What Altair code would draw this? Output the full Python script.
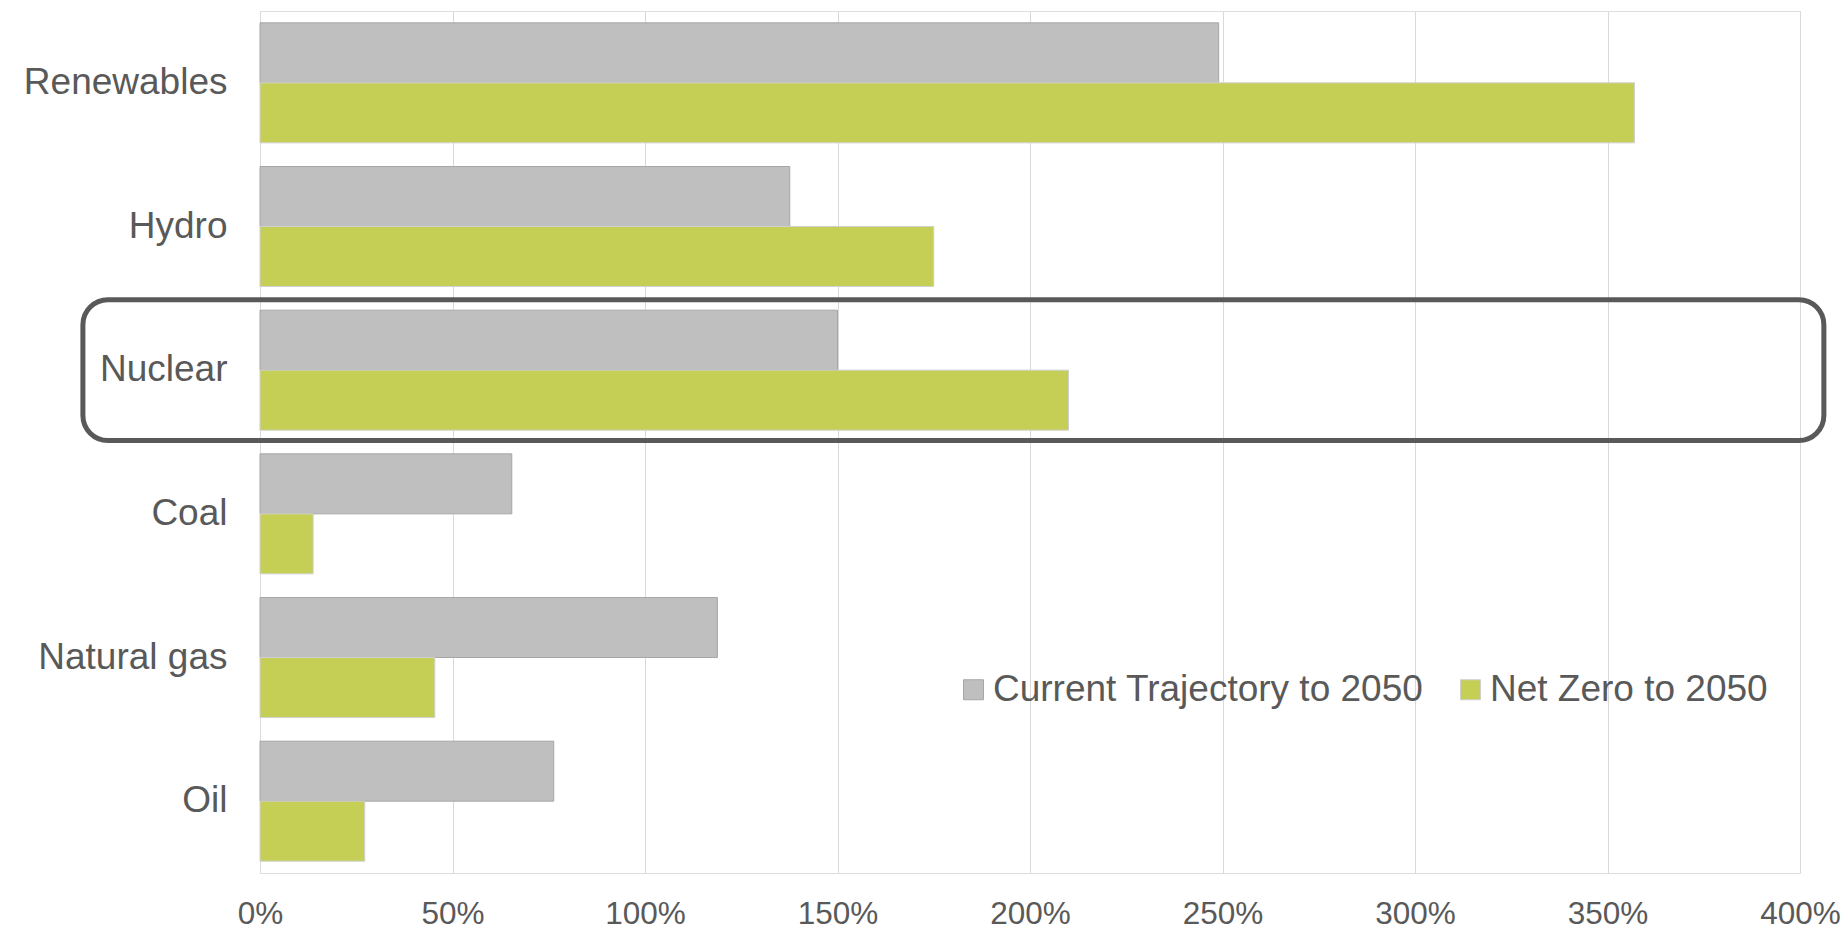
import altair as alt
import pandas as pd

categories = ["Renewables", "Hydro", "Nuclear", "Coal", "Natural gas", "Oil"]
series = ["Current Trajectory to 2050", "Net Zero to 2050"]
current = [2.49, 1.376, 1.50, 0.654, 1.188, 0.763]
net_zero = [3.57, 1.75, 2.10, 0.138, 0.454, 0.272]
tick_values = [0, 0.5, 1.0, 1.5, 2.0, 2.5, 3.0, 3.5, 4.0]

highlight = ["Nuclear"]
box_start = [-0.46]
box_end = [4.062]

rows = []
for c, a, b in zip(categories, current, net_zero):
    rows.append({"category": c, "series": series[0], "value": a})
    rows.append({"category": c, "series": series[1], "value": b})
df = pd.DataFrame(rows)

box_df = pd.DataFrame({"category": highlight, "x0": box_start, "x1": box_end})

FONT = "Liberation Sans"
TEXT = "#595959"

x_scale = alt.Scale(domain=[0, 4], nice=False, zero=True)

bars = alt.Chart(df).mark_bar(strokeWidth=1).encode(
    y=alt.Y("category:N", sort=categories,
            scale=alt.Scale(paddingInner=0.165, paddingOuter=0.0825),
            axis=alt.Axis(title=None, ticks=False, domain=False, labelFontSize=37,
                          labelColor=TEXT, labelFont=FONT, labelPadding=33,
                          labelLimit=0)),
    yOffset=alt.YOffset("series:N", sort=series,
                        scale=alt.Scale(paddingInner=0, paddingOuter=0)),
    x=alt.X("value:Q", scale=x_scale,
            axis=alt.Axis(title=None, values=tick_values, format=".0%", ticks=False,
                          domain=False, grid=True, gridColor="#d9d9d9", gridWidth=1,
                          labelFontSize=31.5, labelColor=TEXT, labelFont=FONT,
                          labelPadding=25, labelFlush=False)),
    color=alt.Color("series:N", sort=series,
                    scale=alt.Scale(domain=series, range=["#bfbfbf", "#c6cf55"]),
                    legend=alt.Legend(title=None, orient="none", direction="horizontal",
                                      legendX=695, legendY=660,
                                      symbolType="square", symbolSize=400,
                                      symbolStrokeColor="#a6a6a6", symbolStrokeWidth=1,
                                      labelFontSize=37, labelColor=TEXT, labelFont=FONT,
                                      labelLimit=0, labelOffset=1, columnPadding=28)),
    stroke=alt.Stroke("series:N", sort=series,
                      scale=alt.Scale(domain=series, range=["#a6a6a6", "#cfcfcf"]),
                      legend=None),
)

box = alt.Chart(box_df).mark_rect(filled=False, stroke="#595959", strokeWidth=5,
                                  cornerRadius=25).encode(
    y=alt.Y("category:N", sort=categories,
            scale=alt.Scale(domain=categories, paddingInner=0.02, paddingOuter=0.01),
            axis=None),
    x=alt.X("x0:Q", scale=x_scale),
    x2="x1:Q",
)

chart = alt.layer(bars, box).resolve_scale(y="independent").properties(
    width=1540,
    height=862,
    autosize=alt.AutoSizeParams(type="none"),
    padding={"left": 260, "top": 11, "right": 46, "bottom": 59},
).configure_view(stroke="#d9d9d9", strokeWidth=1).configure(background="white")

chart.save("out.html", embed_options={"renderer": "svg", "actions": False})
